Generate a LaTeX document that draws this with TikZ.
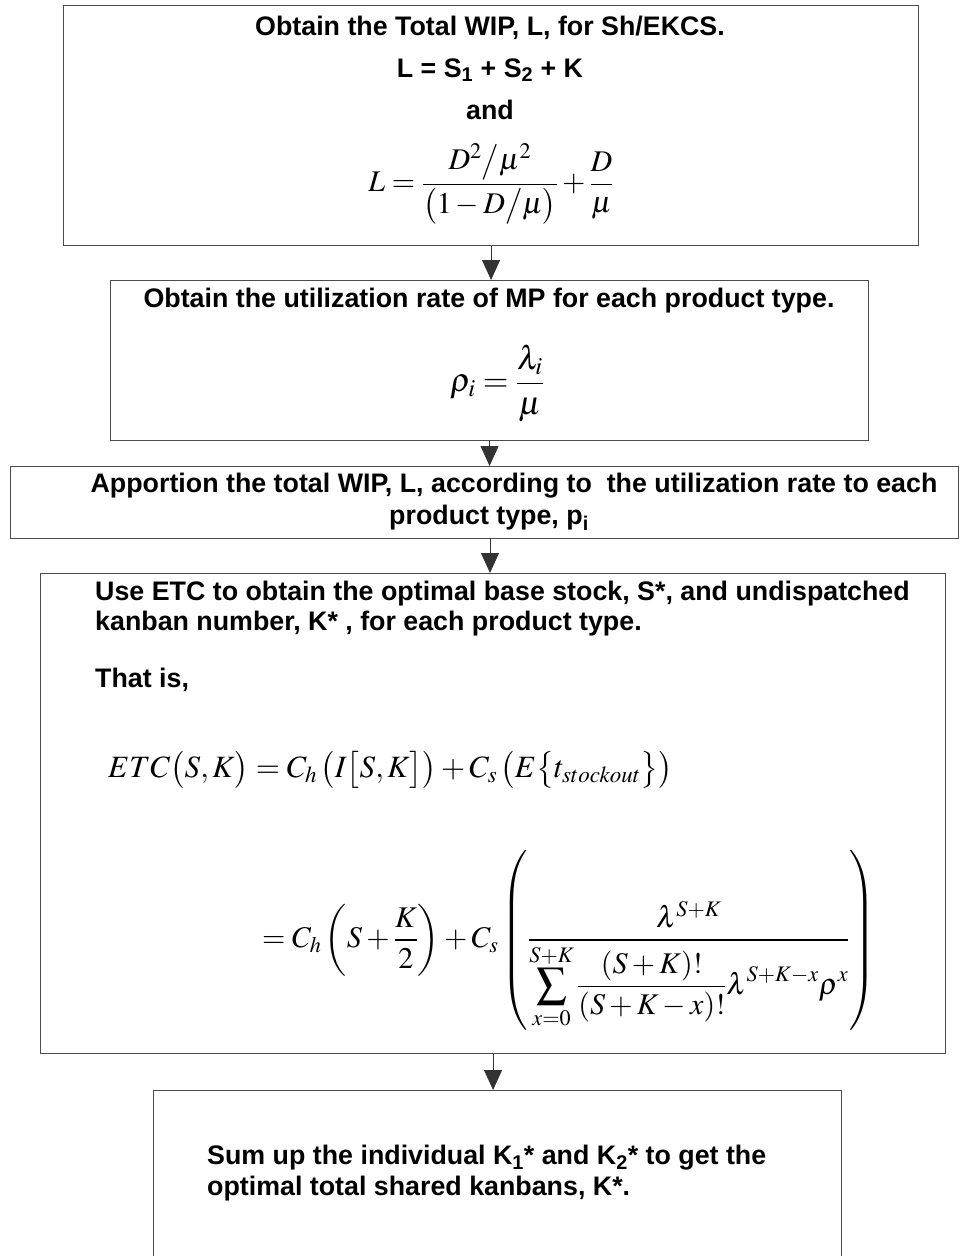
\documentclass[tikz,border=0pt]{standalone}
\usepackage{mathptmx}
\usepackage[no-math]{fontspec}
\setmainfont{Liberation Sans}
\usetikzlibrary{arrows.meta}
\begin{document}
\begin{tikzpicture}[x=1pt,y=-1pt,
  box/.style={draw=black!70,line width=1.1pt,anchor=north west,inner sep=0pt},
  txt/.style={font=\fontsize{26.8}{31}\selectfont\bfseries,inner sep=0pt},
  mth/.style={inner sep=0pt},
  arr/.style={draw=black!80,line width=1pt,-{Triangle[width=18pt,length=20pt]}}]
\useasboundingbox (0,0) rectangle (960,1256);
% boxes
\node[box,minimum width=855pt,minimum height=240pt] (b1) at (63,5) {};
\node[box,minimum width=758pt,minimum height=160pt] (b2) at (110,280) {};
\node[box,minimum width=948pt,minimum height=72pt] (b3) at (10,466) {};
\node[box,minimum width=905pt,minimum height=480pt] (b4) at (40,573) {};
\node[box,minimum width=688pt,minimum height=200pt] (b5) at (153,1090) {};
% box 1
\node[txt] (t1a) at (490,28) {Obtain the Total WIP, L, for Sh/EKCS.};
\node[txt] (t1b) at (490,70) {L = S\textsubscript{1} + S\textsubscript{2} + K};
\node[txt] (t1c) at (490,110) {and};
\node[mth,font=\fontsize{30}{35}\selectfont] (f1) at (491,184) {$\displaystyle L=\frac{D^2\big/\mu^2}{\bigl(1-D\big/\mu\bigr)}+\frac{D}{\mu}$};
% box 2
\node[txt] (t2) at (489,301) {Obtain the utilization rate of MP for each product type.};
\node[mth,font=\fontsize{33}{38}\selectfont] (f2) at (497,383) {$\displaystyle \rho_i=\frac{\lambda_i}{\mu}$};
% box 3
\node[txt] (t3a) at (514,486) {Apportion the total WIP, L, according to\ \ the utilization rate to each};
\node[txt] (t3b) at (489,518) {product type, p\textsubscript{i}};
% box 4
\node[txt,anchor=west] (t4a) at (95,594) {Use ETC to obtain the optimal base stock, S*, and undispatched};
\node[txt,anchor=west] (t4b) at (95,624) {kanban number, K* , for each product type.};
\node[txt,anchor=west] (t4c) at (95,680) {That is,};
\node[mth,anchor=west,font=\fontsize{31}{36}\selectfont] (f3) at (108,770) {$ETC\bigl(S,K\bigr)=C_h\,\bigl(I\bigl[S,K\bigr]\bigr)+C_s\,\bigl(E\bigl\{t_{stockout}\bigr\}\bigr)$};
\node[mth,anchor=west,font=\fontsize{30}{35}\selectfont] (f4) at (262,940) {$\displaystyle =C_h\left(S+\frac{K}{2}\right)+C_s\left(\frac{\lambda^{S+K}}{\displaystyle\sum_{x=0}^{S+K}\frac{(S+K)!}{\left(S+K-x\right)!}\lambda^{S+K-x}\rho^x}\right)$};
% box 5
\node[txt,anchor=west] (t5a) at (207,1158) {Sum up the individual K\textsubscript{1}* and K\textsubscript{2}* to get the};
\node[txt,anchor=west] (t5b) at (207,1189) {optimal total shared kanbans, K*.};
% arrows
\draw[arr] (b1.south) -- (b1.south |- b2.north);
\draw[arr] (b2.south) -- (b2.south |- b3.north);
\coordinate (a3) at (490,538);
\draw[arr] (a3) -- (a3 |- b4.north);
\draw[arr] (b4.south) -- (b4.south |- b5.north);
\end{tikzpicture}
\end{document}
